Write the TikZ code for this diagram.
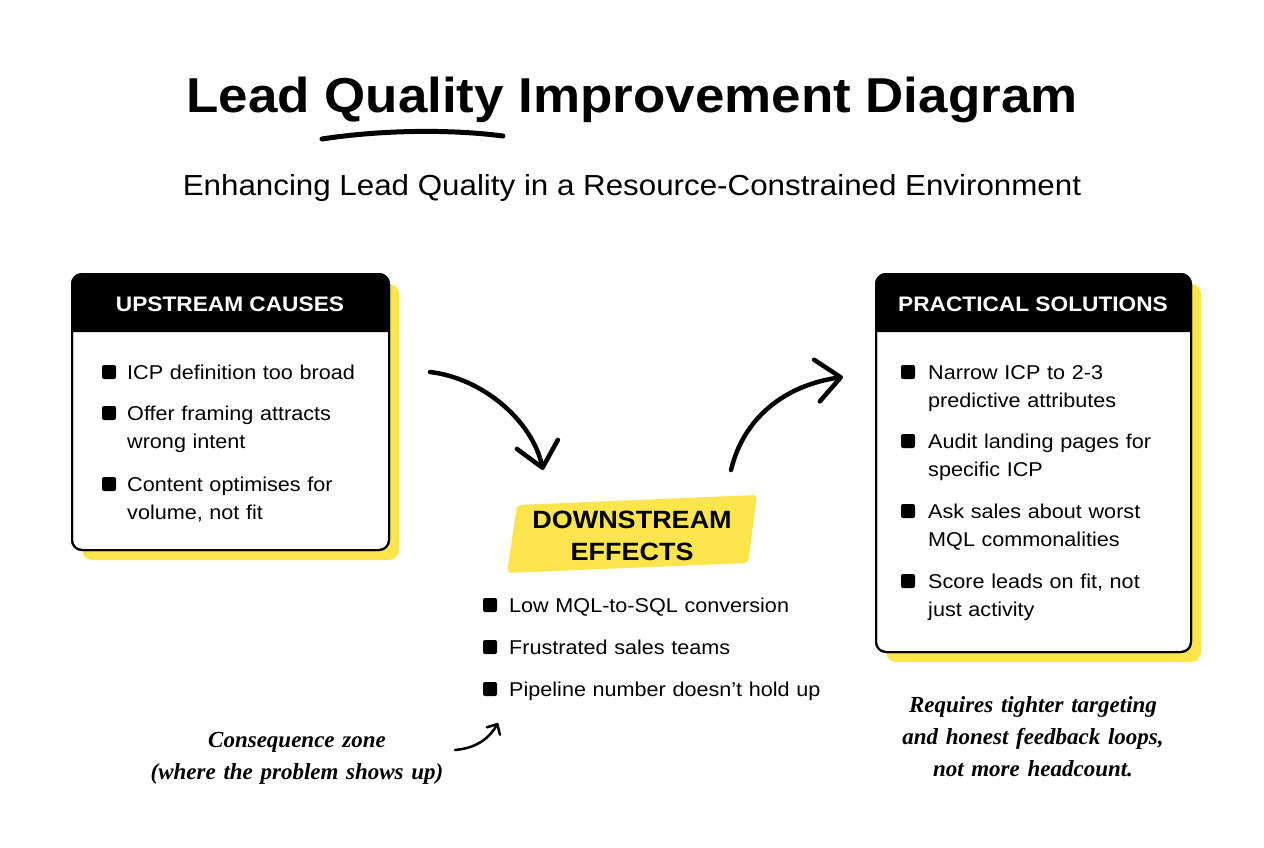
\documentclass[tikz,border=0pt]{standalone}
\usepackage{fontspec}
\setmainfont[FakeStretch=1.08]{Liberation Sans}
\newfontfamily\handfont{Liberation Serif}
\usetikzlibrary{arrows.meta,calc}
\definecolor{hl}{HTML}{FCE54D}
\tikzset{
 panel/.style={draw=black,line width=2pt,rounded corners=10pt,fill=white,outer sep=0pt,inner sep=0pt,anchor=north west},
 shadowbox/.style={fill=hl,rounded corners=10pt},
 headtxt/.style={text=white,font=\fontsize{21}{26}\selectfont\bfseries,anchor=base,inner sep=0pt},
 bul/.style={fill=black,minimum size=14pt,inner sep=0pt,rounded corners=2pt},
 item/.style={anchor=base west,inner sep=0pt,text width=330pt,align=left,font=\fontsize{20}{28}\selectfont},
 note/.style={anchor=base,inner sep=0pt,text width=340pt,align=center,font=\handfont\itshape\bfseries\fontsize{23}{32}\selectfont},
 bigarrow/.style={line width=4.5pt,line cap=round,-{Straight Barb[length=24pt,width=42pt,round]}},
 smallarrow/.style={line width=2.5pt,line cap=round,-{Straight Barb[length=8pt,width=15pt,round]}},
}
\begin{document}
\begin{tikzpicture}[x=1pt,y=-1pt]
\fill[white] (0,0) rectangle (1264,848);
\useasboundingbox (0,0) rectangle (1264,848);

% title
\node[anchor=base,inner sep=0pt,font=\fontsize{49}{56}\selectfont\bfseries] (title) at (632,113) {Lead Quality Improvement Diagram};
\coordinate (ulA) at (322,139);
\coordinate (ulB) at (503,136);
\draw[line width=5pt,line cap=round] (ulA) .. controls (380,130) and (450,129) .. (ulB);
\node[anchor=base,inner sep=0pt,font=\fontsize{29}{36}\selectfont] (subtitle) at (632,196) {Enhancing Lead Quality in a Resource-Constrained Environment};

% left panel
\fill[shadowbox] (82,284) rectangle (399,560);
\node[panel,minimum width=317pt,minimum height=276pt] (up) at (72,274) {};
\fill[black] ($(up.north west)+(0,58)$) [rounded corners=10pt] -- (up.north west) -- (up.north east) [sharp corners] -- ($(up.north east)+(0,58)$) -- cycle;
\draw[line width=2pt,rounded corners=10pt] (up.north west) rectangle (up.south east);
\node[headtxt] (uph) at (230,311) {UPSTREAM CAUSES};
\node[bul] (ub1) at (109,372) {};
\node[item] (ui1) at (127,379) {ICP definition too broad};
\node[bul] (ub2) at (109,413) {};
\node[item] (ui2) at (127,420) {Offer framing attracts\\wrong intent};
\node[bul] (ub3) at (109,484) {};
\node[item] (ui3) at (127,491) {Content optimises for\\volume, not fit};

% right panel
\fill[shadowbox] (886,284) rectangle (1201,662);
\node[panel,minimum width=315pt,minimum height=378pt] (sol) at (876,274) {};
\fill[black] ($(sol.north west)+(0,58)$) [rounded corners=10pt] -- (sol.north west) -- (sol.north east) [sharp corners] -- ($(sol.north east)+(0,58)$) -- cycle;
\draw[line width=2pt,rounded corners=10pt] (sol.north west) rectangle (sol.south east);
\node[headtxt] (solh) at (1033,311) {PRACTICAL SOLUTIONS};
\node[bul] (sb1) at (908,372) {};
\node[item] (si1) at (928,379) {Narrow ICP to 2-3\\predictive attributes};
\node[bul] (sb2) at (908,441) {};
\node[item] (si2) at (928,448) {Audit landing pages for\\specific ICP};
\node[bul] (sb3) at (908,511) {};
\node[item] (si3) at (928,518) {Ask sales about worst\\MQL commonalities};
\node[bul] (sb4) at (908,581) {};
\node[item] (si4) at (928,588) {Score leads on fit, not\\just activity};

% downstream
\fill[hl,rounded corners=4pt] (517,505) -- (757,495) -- (748,563) -- (507,573) -- cycle;
\node[inner sep=0pt,text width=260pt,align=center,font=\fontsize{25}{32}\selectfont\bfseries] (ds) at (632,536) {DOWNSTREAM\\EFFECTS};
\node[bul] (mb1) at (490,605) {};
\node[item] (mi1) at (509,612) {Low MQL-to-SQL conversion};
\node[bul] (mb2) at (490,647) {};
\node[item] (mi2) at (509,654) {Frustrated sales teams};
\node[bul] (mb3) at (490,689) {};
\node[item] (mi3) at (509,696) {Pipeline number doesn’t hold up};

% arrows
\coordinate (a1s) at (430,372);
\coordinate (a1e) at (543,470);
\coordinate (a2s) at (731,470);
\coordinate (a2e) at (843,377);
\draw[bigarrow] (a1s) .. controls (482,378) and (532,420) .. (a1e);
\draw[bigarrow] (a2s) .. controls (745,412) and (792,384) .. (a2e);

% notes
\node[note] (cz) at (297,747) {Consequence zone\\(where the problem shows up)};
\coordinate (a3s) at (455,750);
\coordinate (a3e) at (498,723);
\draw[smallarrow] (a3s) .. controls (478,748) and (490,737) .. (a3e);
\node[note] (req) at (1033,712) {Requires tighter targeting\\and honest feedback loops,\\not more headcount.};
\end{tikzpicture}
\end{document}
